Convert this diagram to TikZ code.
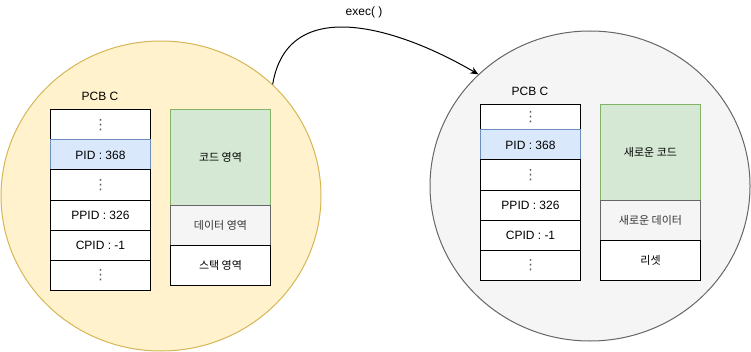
\documentclass[tikz,border=0pt]{standalone}
\usepackage{fontspec}
\setmainfont{Liberation Sans}
\newfontfamily\krfont{Noto Sans CJK KR}
\newfontfamily\symfont{DejaVu Sans}
\usetikzlibrary{shapes.geometric,arrows.meta}
\definecolor{procfill}{HTML}{FFF2CC}
\definecolor{procline}{HTML}{D6B656}
\definecolor{newfill}{HTML}{F5F5F5}
\definecolor{newline}{HTML}{666666}
\definecolor{pidfill}{HTML}{DAE8FC}
\definecolor{pidline}{HTML}{6C8EBF}
\definecolor{codefill}{HTML}{D5E8D4}
\definecolor{codeline}{HTML}{82B366}
\definecolor{datatext}{HTML}{333333}

\begin{document}
\begin{tikzpicture}[x=1pt,y=1pt,
  proc/.style={ellipse,minimum width=320pt,minimum height=310pt,inner sep=0pt,line width=1pt},
  cell/.style={draw,fill=white,line width=1pt,minimum width=100pt,minimum height=30pt,
    inner sep=0pt,outer sep=0pt,font=\fontsize{12}{14}\selectfont},
  dots/.style={cell,text=black!65,font=\symfont\fontsize{14}{16}\selectfont},
  pid/.style={cell,fill=pidfill,draw=pidline},
  code/.style={cell,fill=codefill,draw=codeline,minimum height=95pt,font=\krfont\fontsize{11}{13}\selectfont},
  data/.style={cell,fill=newfill,draw=newline,text=datatext,minimum height=40pt,font=\krfont\fontsize{11}{13}\selectfont},
  stack/.style={cell,minimum height=40pt,font=\krfont\fontsize{11}{13}\selectfont},
  lbl/.style={font=\fontsize{12}{14}\selectfont}]
\useasboundingbox (0,0) rectangle (751,351);
% Processes
\node[proc,draw=procline,fill=procfill] (lproc) at (161,155) {};
\node[proc,draw=newline,fill=newfill] (rproc) at (590,165) {};
% exec call
\draw[line width=1pt,-{Stealth[length=8pt,width=7pt]}]
  (lproc.45) .. controls +(15,90) and +(-82,48) .. (rproc.135);
\node[lbl] (exec) at (364,339) {exec( )};
% Left PCB
\node[lbl] (lpcb) at (100,255) {PCB C};
\node[dots] (lrow1) at (100.5,226) {⋮};
\node[pid] (lrow2) at (100.5,196) {PID : 368};
\node[dots] (lrow3) at (100.5,166) {⋮};
\node[cell] (lrow4) at (100.5,136) {PPID : 326};
\node[cell] (lrow5) at (100.5,106) {CPID : -1};
\node[dots] (lrow6) at (100.5,76) {⋮};
% Left memory
\node[code] (lcode) at (220.5,193.5) {코드 영역};
\node[data] (ldata) at (220.5,126) {데이터 영역};
\node[stack] (lstack) at (220.5,86) {스택 영역};
% Right PCB
\node[lbl] (rpcb) at (530,260) {PCB C};
\node[dots,minimum height=25pt] (rrow1) at (530.5,233.5) {⋮};
\node[pid] (rrow2) at (530.5,206) {PID : 368};
\node[dots] (rrow3) at (530.5,176) {⋮};
\node[cell] (rrow4) at (530.5,146) {PPID : 326};
\node[cell] (rrow5) at (530.5,116) {CPID : -1};
\node[dots] (rrow6) at (530.5,86) {⋮};
% Right memory
\node[code] (rcode) at (650.5,198.5) {새로운 코드};
\node[data] (rdata) at (650.5,131) {새로운 데이터};
\node[stack] (rstack) at (650.5,91) {리셋};
\end{tikzpicture}
\end{document}
